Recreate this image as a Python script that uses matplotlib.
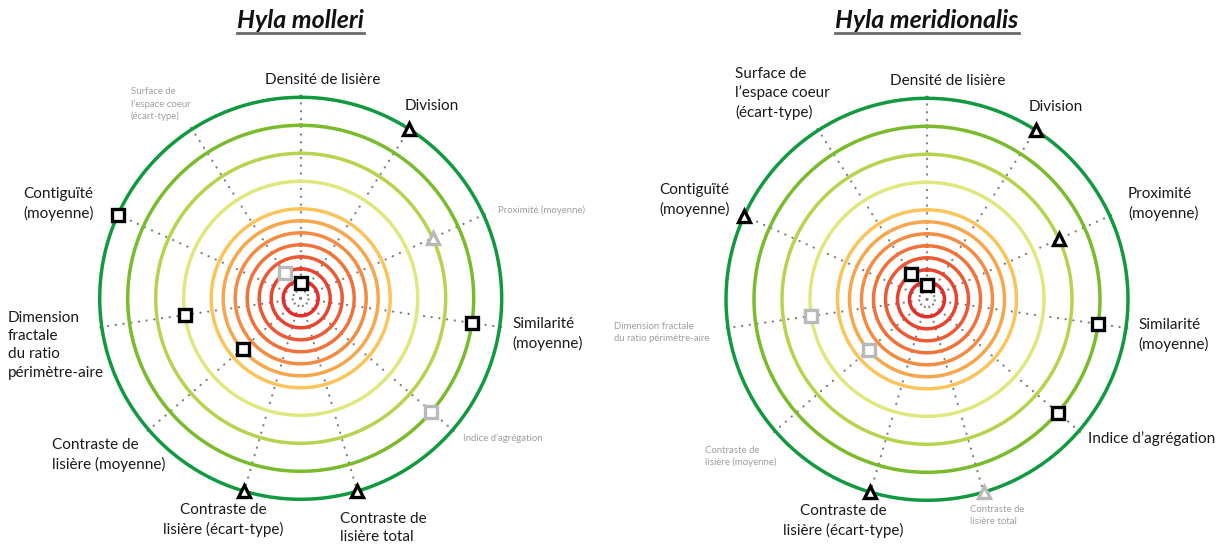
import numpy as np
import matplotlib
matplotlib.use("Agg")
import matplotlib.pyplot as plt
from matplotlib.lines import Line2D

plt.rcParams['font.family'] = ['Lato', 'DejaVu Sans']

# ---- data -----------------------------------------------------------------
n_axes = 11
# ring radii (chart radial units) and colours, innermost first
ring_r = [17.5, 29.5, 41.5, 53.5, 65.5, 77.5, 89.5, 117, 145, 173, 201]
ring_colors = ['#e52d27', '#e8432d', '#ec5a33', '#f07239', '#f48b42', '#f7a64c',
               '#fbc45a', '#dfe77d', '#b5d34c', '#79bb2a', '#10993f']

molleri_labels = ["Densité de lisière", "Division", "Proximité (moyenne)",
                  "Similarité\n(moyenne)", "Indice d’agrégation",
                  "Contraste de\nlisière total", "Contraste de\nlisière (écart-type)",
                  "Contraste de\nlisière (moyenne)",
                  "Dimension\nfractale\ndu ratio\npérimètre-aire",
                  "Contiguïté\n(moyenne)", "Surface de\nl’espace coeur\n(écart-type)"]
molleri_r = [15, 201, 145, 173, 173, 201, 201, 77, 117, 201, 29.5]
molleri_shape = ['s', '^', '^', 's', 's', '^', '^', 's', 's', 's', 's']
molleri_signif = [True, True, False, True, False, True, True, True, True, True, False]

meridionalis_labels = ["Densité de lisière", "Division", "Proximité\n(moyenne)",
                       "Similarité\n(moyenne)", "Indice d’agrégation",
                       "Contraste de\nlisière total", "Contraste de\nlisière (écart-type)",
                       "Contraste de\nlisière (moyenne)",
                       "Dimension fractale\ndu ratio périmètre-aire",
                       "Contiguïté\n(moyenne)", "Surface de\nl’espace coeur\n(écart-type)"]
meridionalis_r = [14.5, 201, 145, 173, 173, 201, 201, 77, 117, 201, 29.5]
meridionalis_shape = ['s', '^', '^', 's', 's', '^', '^', 's', 's', '^', 's']
meridionalis_signif = [True, True, True, True, True, False, True, False, False, True, True]

# label placement: pixel offset from the chart centre, horizontal alignment
molleri_pos = [(22, -218, 'center'), (104, -192, 'left'), (197, -88, 'left'),
               (212, 36, 'left'), (162, 140, 'left'), (39, 230, 'left'),
               (-77, 222, 'center'), (-249, 157, 'left'), (-293, 47, 'left'),
               (-277, -94, 'left'), (-170, -194, 'left')]
meridionalis_pos = [(21, -218, 'center'), (102, -192, 'left'), (201, -95, 'left'),
                    (211, 36, 'left'), (161, 139, 'left'), (43, 216, 'left'),
                    (-84, 222, 'center'), (-222, 157, 'left'), (-313, 33, 'left'),
                    (-268, -99, 'left'), (-192, -206, 'left')]

W, H = 1227, 546
R_MAX = 240
GRAY_TXT = '#9e9e9e'
GRAY_MK = '#b9b9b9'

fig = plt.figure(figsize=(W / 100, H / 100), dpi=100)


def draw_panel(cx, cy, title, labels, pos, radii, shapes, signif):
    ax = fig.add_axes([(cx - R_MAX) / W, (H - cy - R_MAX) / H, 2 * R_MAX / W, 2 * R_MAX / H],
                      projection='polar')
    ax.set_theta_zero_location('N')
    ax.set_theta_direction(-1)
    ax.set_ylim(0, R_MAX)
    ax.set_axis_off()

    thetas = np.arange(n_axes) * 2 * np.pi / n_axes
    circle = np.linspace(0, 2 * np.pi, 500)

    for th in thetas:
        ax.plot([th, th], [0, 206], color='#7d7d7d', lw=1.6,
                linestyle=(0, (0.1, 3.4)), dash_capstyle='round', zorder=1)
    for r, c in zip(ring_r, ring_colors):
        ax.plot(circle, np.full_like(circle, r), color=c, lw=2.5, zorder=2)

    for th, r, m, s in zip(thetas, radii, shapes, signif):
        ax.plot(th, r, marker=m, markersize=8.5 if m == 's' else 9,
                markerfacecolor='white', markeredgecolor='black' if s else GRAY_MK,
                markeredgewidth=2.4, zorder=5, clip_on=False)

    for lab, (dx, dy, ha), s in zip(labels, pos, signif):
        ax.annotate(lab, xy=(0, 0), xytext=(dx, -dy), textcoords='offset pixels',
                    ha=ha, va='center', color='#1a1a1a' if s else GRAY_TXT,
                    fontsize=11 if s else 6.9, linespacing=1.38, zorder=6)

    t = fig.text(cx / W, 1 - 20 / H, title, ha='center', va='center',
                 fontsize=18, fontweight='bold', fontstyle='italic', color='#111111')
    return t


t1 = draw_panel(300.7, 298.3, "Hyla molleri", molleri_labels, molleri_pos,
                molleri_r, molleri_shape, molleri_signif)
t2 = draw_panel(927, 299.3, "Hyla meridionalis", meridionalis_labels, meridionalis_pos,
                meridionalis_r, meridionalis_shape, meridionalis_signif)

# underline the titles
renderer = fig.canvas.get_renderer()
for t in (t1, t2):
    bb = t.get_window_extent(renderer)
    y = (bb.y0 - 1) / H
    fig.add_artist(Line2D([bb.x0 / W, bb.x1 / W], [y, y], color='#6a6a6a', lw=2))

fig.savefig('out.png', dpi=100)
